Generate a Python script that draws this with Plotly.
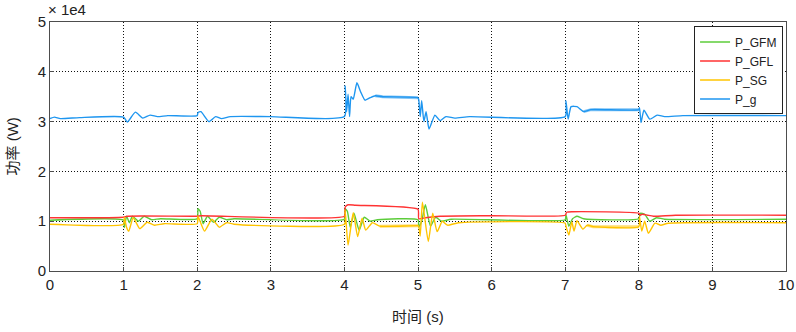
import plotly.graph_objects as go

# Time (s) and power values (×1e4 W)
t_g = [0, 0.06, 0.14, 0.4, 1.0, 1.05, 1.16, 1.26, 1.36, 1.46, 1.6, 2.0, 2.01, 2.05, 2.16, 2.25, 2.33, 2.45, 3.0,
       4.0, 4.01, 4.03, 4.05, 4.07, 4.09, 4.12, 4.17, 4.22, 4.28, 4.35, 4.42, 4.52, 5.0,
       5.01, 5.03, 5.05, 5.08, 5.11, 5.15, 5.23, 5.3, 5.38, 5.5, 5.7, 7.0,
       7.01, 7.04, 7.08, 7.16, 7.25, 7.35, 8.0, 8.01, 8.03, 8.07, 8.15, 8.25, 8.35, 8.6, 10.0]
p_g = [3.06, 3.09, 3.06, 3.08, 3.09, 2.99, 3.19, 3.07, 3.13, 3.10, 3.12, 3.12, 3.18, 3.20, 3.00, 3.10, 3.06, 3.10, 3.10,
       3.10, 3.72, 3.20, 3.55, 3.10, 3.50, 3.45, 3.78, 3.60, 3.43, 3.48, 3.52, 3.50, 3.48,
       3.44, 3.10, 3.42, 3.00, 3.20, 2.85, 3.13, 3.02, 3.10, 3.07, 3.10, 3.10,
       3.42, 3.05, 3.30, 3.30, 3.20, 3.24, 3.24, 3.28, 2.98, 3.23, 3.05, 3.13, 3.10, 3.12, 3.12]

t_gfl = [0, 1.0, 1.05, 2.0, 2.05, 4.0, 4.01, 4.05, 4.15, 5.0, 5.01, 5.1, 5.3, 6.0, 7.0, 7.02, 7.1, 8.0,
         8.02, 8.05, 8.12, 8.2, 8.5, 10.0]
p_gfl = [1.07, 1.08, 1.10, 1.10, 1.11, 1.10, 1.28, 1.33, 1.32, 1.24, 1.05, 1.07, 1.10, 1.11, 1.12, 1.18, 1.19, 1.16,
         1.12, 1.14, 1.12, 1.10, 1.12, 1.12]

t_gfm = [0, 1.0, 1.01, 1.04, 1.08, 1.12, 1.2, 1.28, 1.38, 1.5, 2.0, 2.01, 2.04, 2.08, 2.14, 2.22, 2.3, 2.4, 2.5,
         4.0, 4.01, 4.04, 4.08, 4.13, 4.2, 4.27, 4.35, 4.45, 5.0, 5.01, 5.05, 5.1, 5.17, 5.24, 5.32, 5.45,
         7.0, 7.01, 7.05, 7.1, 7.16, 7.25, 8.0, 8.02, 8.08, 8.15, 8.24, 8.35, 10.0]
p_gfm = [1.02, 1.02, 0.87, 1.10, 0.97, 1.10, 1.00, 1.10, 1.03, 1.05, 1.05, 1.25, 1.20, 0.95, 1.10, 0.98, 1.08, 1.03, 1.05,
         1.04, 1.25, 1.20, 0.88, 1.16, 0.82, 1.08, 1.00, 1.03, 1.03, 0.88, 1.00, 1.33, 0.90, 1.08, 1.00, 1.04,
         1.03, 1.13, 0.90, 1.05, 1.10, 1.05, 1.05, 1.16, 1.14, 1.00, 1.07, 1.04, 1.04]

t_sg = [0, 1.0, 1.01, 1.04, 1.07, 1.13, 1.22, 1.32, 1.42, 1.55, 2.0, 2.01, 2.1, 2.2, 2.3, 2.4, 2.5,
        4.0, 4.01, 4.05, 4.12, 4.18, 4.24, 4.29, 4.38, 4.48, 5.0, 5.01, 5.03, 5.06, 5.14, 5.2, 5.26, 5.33, 5.4, 5.55,
        7.0, 7.01, 7.05, 7.09, 7.12, 7.16, 7.24, 7.3, 7.38, 8.0, 8.01, 8.04, 8.08, 8.13, 8.22, 8.3, 8.4, 10.0]
p_sg = [0.94, 0.94, 1.08, 0.88, 0.80, 1.07, 0.85, 0.98, 0.92, 0.95, 0.95, 1.10, 0.80, 1.04, 0.88, 0.97, 0.94,
        0.94, 1.22, 0.52, 1.17, 0.69, 1.06, 0.82, 0.97, 0.90, 0.91, 0.90, 0.70, 1.38, 0.59, 1.16, 0.79, 1.00, 0.92, 0.97,
        0.96, 0.90, 0.72, 0.99, 0.80, 1.01, 0.84, 0.92, 0.89, 0.89, 1.09, 0.80, 1.00, 0.76, 0.96, 0.92, 0.96, 0.97]

x_ticks = [0, 1, 2, 3, 4, 5, 6, 7, 8, 9, 10]
y_ticks = [0, 1, 2, 3, 4, 5]

series = [
    ("P_GFM", t_gfm, p_gfm, "#5ccc3a"),
    ("P_GFL", t_gfl, p_gfl, "#ff3333"),
    ("P_SG", t_sg, p_sg, "#ffc400"),
    ("P_g", t_g, p_g, "#1e96f0"),
]
# windows with high-frequency ripple (drawn as a thicker band)
ripple = {"P_g": [(4.4, 5.0), (7.25, 8.0)], "P_SG": [(4.4, 5.0), (7.3, 8.0)]}

FONT = "Liberation Sans, Arial, Noto Sans CJK SC, sans-serif"
fig = go.Figure()
for name, t, v, c in series:
    fig.add_trace(go.Scatter(x=t, y=v, mode="lines", name=name,
                             line=dict(color=c, width=1.4, shape="spline", smoothing=0.5)))
    for a, b in ripple.get(name, []):
        tt = [x for x in t if a <= x <= b]
        vv = [y for x, y in zip(t, v) if a <= x <= b]
        fig.add_trace(go.Scatter(x=tt, y=vv, mode="lines", showlegend=False,
                                 line=dict(color=c, width=3), opacity=0.55, hoverinfo="skip"))

axis_common = dict(showline=True, linecolor="#4d4d4d", linewidth=1, mirror=True,
                   showgrid=True, gridcolor="#111111", griddash="1px,2px", gridwidth=1,
                   ticks="inside", ticklen=4, tickcolor="#4d4d4d", zeroline=False,
                   automargin=False,
                   tickfont=dict(family=FONT, size=15, color="#222222"))
fig.update_xaxes(range=[0, 10], tickvals=x_ticks, **axis_common)
fig.update_yaxes(range=[0, 5], tickvals=y_ticks, **axis_common)

fig.update_layout(
    width=796, height=332,
    margin=dict(l=50, r=10, t=22, b=61),
    paper_bgcolor="white", plot_bgcolor="white",
    font=dict(family=FONT, color="#222222"),
    showlegend=True,
    legend=dict(x=0.996, y=0.982, xanchor="right", yanchor="top",
                bgcolor="white", bordercolor="#222222", borderwidth=1,
                font=dict(family=FONT, size=12, color="#222222"),
                tracegroupgap=0, itemwidth=30),
    annotations=[
        dict(text="时间 (s)", xref="paper", yref="paper", x=0.5, y=0, yanchor="middle",
             yshift=-45, showarrow=False, font=dict(family=FONT, size=15, color="#222222")),
        dict(text="功率 (W)", xref="paper", yref="paper", x=0, y=0.5, xanchor="center",
             xshift=-38, textangle=-90, showarrow=False, font=dict(family=FONT, size=15, color="#222222")),
        dict(text="× 1e4", xref="paper", yref="paper", x=0, y=1, xanchor="left", yanchor="middle",
             xshift=-4, yshift=13, showarrow=False, font=dict(family=FONT, size=15, color="#222222")),
    ],
)
fig.write_html("out.html", config={"displayModeBar": False},
               post_script="document.body.style.margin='0';window.dispatchEvent(new Event('resize'));")
